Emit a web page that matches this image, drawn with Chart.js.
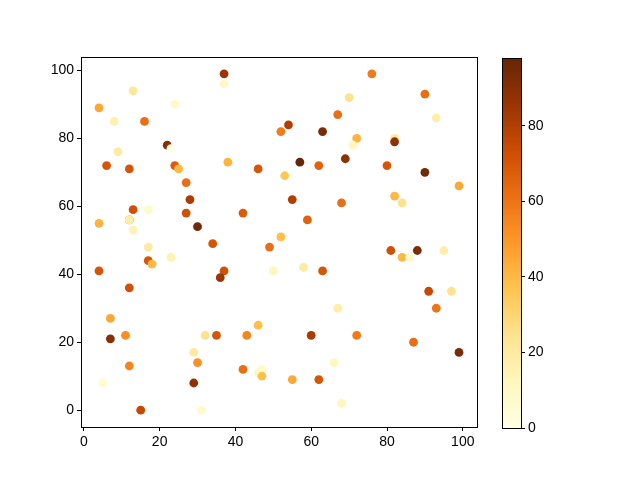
<!DOCTYPE html>
<html>
<head>
<meta charset="utf-8">
<script src="https://cdn.jsdelivr.net/npm/chart.js@4"></script>
<style>
  body { margin: 0; background: #fff; }
  #wrap { position: relative; width: 640px; height: 480px; }
  canvas { position: absolute; left: 0; top: 0; }
</style>
</head>
<body>
<div id="wrap">
  <canvas id="scatter" width="640" height="480"></canvas>
  <canvas id="cbar" width="640" height="480"></canvas>
</div>
<script>
const xVals = [13, 4, 24, 8, 16, 22, 23, 9, 6, 12, 24, 25, 27, 28, 13, 17, 27, 4, 12, 12,
  13, 30, 34, 17, 37, 37, 70, 67, 54, 52, 63, 38, 46, 53, 57, 62, 69, 55, 42, 68,
  59, 52, 49, 76, 90, 93, 72, 71, 82, 82, 80, 90, 99, 82, 84, 23, 17, 18, 4, 12,
  7, 7, 11, 12, 5, 15, 32, 29, 30, 29, 31, 37, 36, 50, 58, 63, 67, 46, 35, 43,
  60, 66, 42, 46, 47, 47, 55, 62, 68, 81, 84, 86, 88, 95, 91, 97, 93, 72, 87, 99];
const yVals = [94, 89, 90, 85, 85, 78, 77, 76, 72, 71, 72, 71, 67, 62, 59, 59, 58, 55, 56, 56,
  53, 54, 49, 48, 99, 96, 92, 87, 84, 82, 82, 73, 71, 69, 73, 72, 74, 62, 58, 61,
  56, 51, 48, 99, 93, 86, 80, 78, 80, 79, 72, 70, 66, 63, 61, 45, 44, 43, 41, 36,
  27, 21, 22, 13, 8, 0, 22, 17, 14, 8, 0, 41, 39, 41, 42, 41, 30, 25, 22, 22,
  22, 14, 12, 11, 12, 10, 9, 9, 2, 47, 45, 45, 47, 47, 35, 35, 30, 22, 20, 17];
const colorVals = [22, 45, 8, 16, 62, 90, 0, 20, 70, 70, 68, 40, 62, 82, 72, 8, 72, 42, 60, 18,
  14, 95, 70, 20, 85, 10, 25, 62, 80, 58, 93, 42, 70, 35, 98, 66, 88, 80, 68, 62,
  66, 38, 62, 58, 62, 18, 42, 12, 20, 88, 70, 95, 45, 40, 25, 15, 70, 40, 70, 72,
  45, 90, 52, 55, 6, 75, 25, 20, 52, 88, 8, 72, 85, 12, 20, 70, 18, 38, 70, 55,
  82, 12, 62, 10, 8, 38, 45, 70, 12, 72, 40, 8, 92, 18, 75, 25, 60, 58, 62, 93];

const xTicks = [0, 20, 40, 60, 80, 100];
const yTicks = [0, 20, 40, 60, 80, 100];
const cbarTicks = [0, 20, 40, 60, 80];
const cMin = 0;
const cMax = 98;

// YlOrBr colormap stops
const ylOrBr = [
  [255, 255, 229], [255, 247, 188], [254, 227, 145], [254, 196, 79], [254, 153, 41],
  [236, 112, 20], [204, 76, 2], [153, 52, 4], [102, 37, 6]
];

function cmap(v) {
  let t = (v - cMin) / (cMax - cMin);
  t = Math.max(0, Math.min(1, t));
  const pos = t * (ylOrBr.length - 1);
  const i = Math.min(Math.floor(pos), ylOrBr.length - 2);
  const f = pos - i;
  const a = ylOrBr[i], b = ylOrBr[i + 1];
  const c = [0, 1, 2].map(k => Math.round(a[k] + (b[k] - a[k]) * f));
  return `rgb(${c[0]},${c[1]},${c[2]})`;
}

Chart.defaults.font.family = "'Liberation Sans', 'DejaVu Sans', sans-serif";
Chart.defaults.font.size = 14;
Chart.defaults.color = '#000';

// black frame round the plot area
const frame = {
  id: 'frame',
  afterDraw(chart) {
    const a = chart.chartArea;
    const ctx = chart.ctx;
    ctx.save();
    ctx.strokeStyle = '#000';
    ctx.lineWidth = 1;
    ctx.strokeRect(Math.round(a.left) + 0.5, Math.round(a.top) + 0.5,
      Math.round(a.right - a.left), Math.round(a.bottom - a.top));
    ctx.restore();
  }
};

const points = xVals.map((x, i) => ({ x: x, y: yVals[i] }));

new Chart(document.getElementById('scatter'), {
  type: 'scatter',
  data: {
    datasets: [{
      data: points,
      backgroundColor: colorVals.map(cmap),
      borderWidth: 0,
      pointRadius: 4.4
    }]
  },
  options: {
    responsive: false,
    animation: false,
    layout: { padding: { left: 0, top: 57, right: 163, bottom: 0 } },
    plugins: { legend: { display: false }, tooltip: { enabled: false } },
    scales: {
      x: {
        type: 'linear',
        min: -0.75,
        max: 103.75,
        afterBuildTicks: s => { s.ticks = xTicks.map(v => ({ value: v })); },
        afterFit: s => { s.height = 53; },
        grid: { drawOnChartArea: false, tickLength: 4, color: '#000' },
        border: { color: '#000' },
        ticks: { padding: 3, maxRotation: 0 }
      },
      y: {
        type: 'linear',
        min: -4.95,
        max: 103.95,
        afterBuildTicks: s => { s.ticks = yTicks.map(v => ({ value: v })); },
        afterFit: s => { s.width = 81; },
        grid: { drawOnChartArea: false, tickLength: 4, color: '#000' },
        border: { color: '#000' },
        ticks: { padding: 3 }
      }
    }
  },
  plugins: [frame]
});

// colorbar: one floating bar from cMin to cMax filled with the colormap
new Chart(document.getElementById('cbar'), {
  type: 'bar',
  data: {
    labels: [''],
    datasets: [{
      data: [[cMin, cMax]],
      barPercentage: 1,
      categoryPercentage: 1,
      borderWidth: 0,
      backgroundColor: ctx => {
        const area = ctx.chart.chartArea;
        if (!area) return null;
        const g = ctx.chart.ctx.createLinearGradient(0, area.bottom, 0, area.top);
        ylOrBr.forEach((c, i) => g.addColorStop(i / (ylOrBr.length - 1), `rgb(${c[0]},${c[1]},${c[2]})`));
        return g;
      }
    }]
  },
  options: {
    responsive: false,
    animation: false,
    layout: { padding: { left: 502, top: 58, right: 0, bottom: 52 } },
    plugins: { legend: { display: false }, tooltip: { enabled: false } },
    scales: {
      x: { display: false },
      y: {
        position: 'right',
        min: cMin,
        max: cMax,
        afterBuildTicks: s => { s.ticks = cbarTicks.map(v => ({ value: v })); },
        afterFit: s => { s.width = 119; },
        grid: { drawOnChartArea: false, tickLength: 4, color: '#000' },
        border: { color: '#000' },
        ticks: { padding: 3 }
      }
    }
  },
  plugins: [frame]
});
</script>
</body>
</html>
